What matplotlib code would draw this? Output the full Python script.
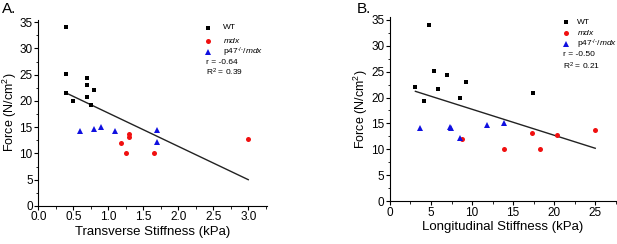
import matplotlib
matplotlib.use("Agg")
import matplotlib.pyplot as plt
from matplotlib.ticker import MultipleLocator, FormatStrFormatter

plt.rcParams["font.family"] = ["Liberation Sans", "DejaVu Sans"]
plt.rcParams["mathtext.fontset"] = "custom"
plt.rcParams["mathtext.rm"] = "Liberation Sans"
plt.rcParams["mathtext.it"] = "Liberation Sans:italic"

# Panel A: transverse stiffness (kPa) vs force (N/cm2)
a_wt_x = [0.4, 0.4, 0.4, 0.5, 0.7, 0.7, 0.7, 0.75, 0.8]
a_wt_y = [34.0, 25.2, 21.6, 20.0, 24.4, 23.1, 20.8, 19.3, 22.0]
a_mdx_x = [1.18, 1.25, 1.3, 1.3, 1.65, 3.0]
a_mdx_y = [12.0, 10.0, 13.7, 13.2, 10.0, 12.8]
a_p47_x = [0.6, 0.8, 0.9, 1.1, 1.7, 1.7]
a_p47_y = [14.2, 14.6, 15.0, 14.2, 14.4, 12.2]
a_fit_x = [0.4, 3.0]
a_fit_y = [21.5, 5.0]

# Panel B: longitudinal stiffness (kPa) vs force (N/cm2)
b_wt_x = [3.1, 4.2, 4.7, 5.4, 5.9, 6.9, 8.5, 9.3, 17.4]
b_wt_y = [22.0, 19.3, 34.0, 25.2, 21.6, 24.4, 20.0, 23.1, 20.8]
b_mdx_x = [8.8, 13.9, 17.3, 18.3, 20.3, 25.0]
b_mdx_y = [12.0, 10.0, 13.1, 10.0, 12.8, 13.7]
b_p47_x = [3.7, 7.3, 7.4, 8.5, 11.8, 13.9]
b_p47_y = [14.2, 14.4, 14.2, 12.2, 14.6, 15.0]
b_fit_x = [3.1, 25.0]
b_fit_y = [21.2, 10.2]

C_WT, C_MDX, C_P47 = "black", "#f01010", "#1010e0"
MARKERS = [("s", 3.2, C_WT), ("o", 3.6, C_MDX), ("^", 4.0, C_P47)]
LABELS = ["WT", "$\\mathit{mdx}$", "p47$^{\\text{-/-}}$/$\\mathit{mdx}$"]


def draw_panel(ax, wt, mdx, p47, fit, xlabel, stats, xmaj, xmin, xfmt, leg):
    for (m, ms, c), (xs, ys) in zip(MARKERS, (wt, mdx, p47)):
        ax.plot(xs, ys, ls="none", marker=m, ms=ms, color=c, mew=0, zorder=3)
    ax.plot(*fit, color="#222222", lw=1.0, zorder=2)

    for side in ("top", "right"):
        ax.spines[side].set_visible(False)
    for side in ("left", "bottom"):
        ax.spines[side].set_linewidth(0.8)
    ax.xaxis.set_major_locator(MultipleLocator(xmaj))
    ax.xaxis.set_minor_locator(MultipleLocator(xmin))
    ax.yaxis.set_major_locator(MultipleLocator(5))
    ax.yaxis.set_minor_locator(MultipleLocator(2.5))
    ax.xaxis.set_major_formatter(xfmt)
    ax.tick_params(which="major", direction="out", length=3, width=0.8,
                   labelsize=8.5, pad=1)
    ax.tick_params(which="minor", direction="out", length=1.8, width=0.6)
    ax.set_ylim(0, 35.5)
    ax.set_xlabel(xlabel, fontsize=9.5, labelpad=2)
    ax.set_ylabel("Force (N/cm$^{2}$)", fontsize=9, labelpad=0.5)

    # legend keys + stats, placed by hand like the original
    mx, tx, sx, rows = leg
    for (m, ms, c), lab, ry in zip(MARKERS, LABELS, rows[:3]):
        ax.plot([mx], [ry], ls="none", marker=m, ms=ms, color=c, mew=0,
                transform=ax.transAxes, clip_on=False)
        ax.text(tx, ry, lab, transform=ax.transAxes, fontsize=6, va="center")
    for s, ry in zip(stats, rows[3:]):
        ax.text(sx, ry, s, transform=ax.transAxes, fontsize=6, va="center")


fig = plt.figure(figsize=(6.17, 2.44), dpi=100)
ax_a = fig.add_axes([0.062, 0.156, 0.371, 0.764])
ax_b = fig.add_axes([0.632, 0.176, 0.366, 0.753])

draw_panel(ax_a, (a_wt_x, a_wt_y), (a_mdx_x, a_mdx_y), (a_p47_x, a_p47_y),
           (a_fit_x, a_fit_y), "Transverse Stiffness (kPa)",
           ("r = -0.64", "R$^{2}$ = 0.39"), 0.5, 0.25, FormatStrFormatter("%.1f"),
           (0.742, 0.806, 0.732, [0.955, 0.885, 0.826, 0.767, 0.714]))
ax_a.set_xlim(0, 3.27)

draw_panel(ax_b, (b_wt_x, b_wt_y), (b_mdx_x, b_mdx_y), (b_p47_x, b_p47_y),
           (b_fit_x, b_fit_y), "Longitudinal Stiffness (kPa)",
           ("r = -0.50", "R$^{2}$ = 0.21"), 5, 2.5, FormatStrFormatter("%d"),
           (0.779, 0.828, 0.766, [0.974, 0.915, 0.855, 0.795, 0.735]))
ax_b.set_xlim(0, 27.5)

fig.text(0.004, 0.99, "A.", fontsize=11, va="top", ha="left")
fig.text(0.578, 0.99, "B.", fontsize=11, va="top", ha="left")

fig.savefig("out.png", dpi=100)
